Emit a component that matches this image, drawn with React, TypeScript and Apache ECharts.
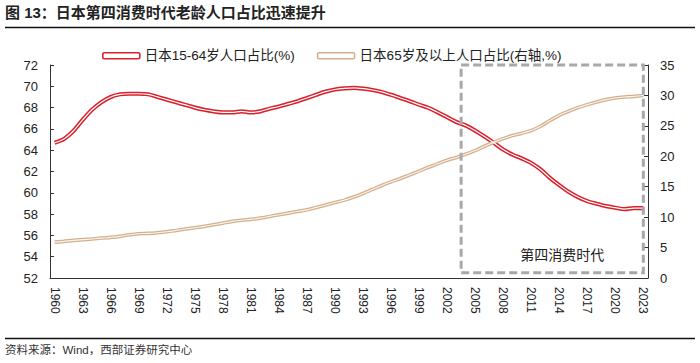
import React, { useEffect, useRef } from "react";
import * as echarts from "echarts";

const years: string[] = [];
for (let y = 1960; y <= 2023; y++) years.push(String(y));

const workingAgeShare = [
  64.7, 65.05, 65.8, 66.85, 67.8, 68.5, 69.0, 69.25, 69.3, 69.3,
  69.25, 69.0, 68.75, 68.5, 68.25, 68.0, 67.8, 67.65, 67.55, 67.55,
  67.65, 67.55, 67.65, 67.9, 68.1, 68.35, 68.6, 68.9, 69.2, 69.5,
  69.7, 69.8, 69.85, 69.78, 69.65, 69.47, 69.2, 68.9, 68.6, 68.28,
  67.97, 67.56, 67.1, 66.65, 66.32, 65.84, 65.28, 64.69, 64.06, 63.59,
  63.22, 62.8, 62.19, 61.4, 60.72, 60.1, 59.6, 59.22, 58.97, 58.75,
  58.6, 58.47, 58.56, 58.56,
];

const elderlyShare = [
  5.9, 6.02, 6.18, 6.3, 6.4, 6.56, 6.68, 6.84, 7.1, 7.28,
  7.33, 7.44, 7.6, 7.82, 8.04, 8.26, 8.48, 8.75, 9.02, 9.3,
  9.5, 9.63, 9.84, 10.12, 10.4, 10.66, 10.94, 11.2, 11.6, 12.0,
  12.4, 12.8, 13.3, 13.89, 14.55, 15.2, 15.8, 16.35, 16.95, 17.55,
  18.2, 18.76, 19.35, 19.8, 20.35, 20.94, 21.65, 22.3, 22.91, 23.4,
  23.79, 24.22, 24.93, 25.87, 26.74, 27.4, 28.0, 28.49, 28.93, 29.31,
  29.59, 29.75, 29.85, 30.0,
];

const leftTicks = { min: 52, max: 72, interval: 2 };
const rightTicks = { min: 0, max: 35, interval: 5 };

const boxStartYear = "2004";
const boxEndYear = "2023";
const boxBottomValue = 52.5;

const title = "图 13：日本第四消费时代老龄人口占比迅速提升";
const source = "资料来源：Wind，西部证券研究中心";
const boxLabel = "第四消费时代";
const seriesNames = ["日本15-64岁人口占比(%)", "日本65岁及以上人口占比(右轴,%)"];

const RED = "#d8202c";
const TAN = "#d2b08e";
const FONT = "'Liberation Sans', 'Noto Sans CJK SC', sans-serif";

export default function App() {
  const ref = useRef<HTMLDivElement>(null);

  useEffect(() => {
    if (!ref.current) return;
    const chart = echarts.init(ref.current, undefined, { renderer: "svg" });

    const axisLabelStyle = { color: "#222", fontSize: 13, fontFamily: FONT };

    const option: any = {
      animation: false,
      textStyle: { fontFamily: FONT },
      grid: { left: 50, right: 52, top: 65, bottom: 85, containLabel: false },
      legend: {
        left: 97,
        top: 44,
        itemWidth: 37,
        itemHeight: 6,
        itemGap: 22,
        textStyle: { color: "#222", fontSize: 13.5, fontFamily: FONT },
        data: [
          {
            name: seriesNames[0],
            icon: "roundRect",
            itemStyle: { color: "#fff", borderColor: RED, borderWidth: 1.6 },
          },
          {
            name: seriesNames[1],
            icon: "roundRect",
            itemStyle: { color: "#fff", borderColor: TAN, borderWidth: 1.6 },
          },
        ],
      },
      xAxis: {
        type: "category",
        data: years,
        boundaryGap: true,
        axisLine: { lineStyle: { color: "#333", width: 1 } },
        axisTick: { inside: true, length: 4, interval: 2, lineStyle: { color: "#333" } },
        axisLabel: { ...axisLabelStyle, fontSize: 12, rotate: -90, interval: 2, margin: 9 },
        splitLine: { show: false },
      },
      yAxis: [
        {
          type: "value",
          ...leftTicks,
          position: "left",
          axisLine: { show: true, lineStyle: { color: "#333", width: 1 } },
          axisTick: { show: true, inside: true, length: 4, lineStyle: { color: "#333" } },
          axisLabel: { ...axisLabelStyle, margin: 12 },
          splitLine: { show: false },
        },
        {
          type: "value",
          ...rightTicks,
          position: "right",
          axisLine: { show: true, lineStyle: { color: "#333", width: 1 } },
          axisTick: { show: true, inside: true, length: 4, lineStyle: { color: "#333" } },
          axisLabel: { ...axisLabelStyle, margin: 12 },
          splitLine: { show: false },
        },
      ],
      series: [
        {
          name: seriesNames[0],
          type: "line",
          yAxisIndex: 0,
          data: workingAgeShare,
          smooth: 0.3,
          showSymbol: false,
          lineStyle: { color: RED, width: 4.2 },
          itemStyle: { color: RED },
          z: 3,
        },
        {
          name: "red-inner",
          type: "line",
          yAxisIndex: 0,
          data: workingAgeShare,
          smooth: 0.3,
          showSymbol: false,
          lineStyle: { color: "#fff", width: 1.2 },
          itemStyle: { color: "#fff" },
          silent: true,
          z: 4,
        },
        {
          name: seriesNames[1],
          type: "line",
          yAxisIndex: 1,
          data: elderlyShare,
          smooth: 0.3,
          showSymbol: false,
          lineStyle: { color: TAN, width: 3.6 },
          itemStyle: { color: TAN },
          z: 3,
        },
        {
          name: "tan-inner",
          type: "line",
          yAxisIndex: 1,
          data: elderlyShare,
          smooth: 0.3,
          showSymbol: false,
          lineStyle: { color: "#fbf5ef", width: 1.1 },
          itemStyle: { color: "#fbf5ef" },
          silent: true,
          z: 4,
        },
      ],
    };

    chart.setOption(option);

    const band = (chart.convertToPixel({ xAxisIndex: 0 }, years[1]) as number) -
      (chart.convertToPixel({ xAxisIndex: 0 }, years[0]) as number);
    const x0 = (chart.convertToPixel({ xAxisIndex: 0 }, boxStartYear) as number) - band / 2;
    const x1 = chart.convertToPixel({ xAxisIndex: 0 }, boxEndYear) as number;
    const y0 = chart.convertToPixel({ yAxisIndex: 0 }, leftTicks.max) as number;
    const y1 = chart.convertToPixel({ yAxisIndex: 0 }, boxBottomValue) as number;

    chart.setOption({
      graphic: [
        {
          type: "text",
          left: 5,
          top: 5,
          style: {
            text: title,
            fill: "#222",
            font: `bold 15px ${FONT}`,
          },
        },
        {
          type: "line",
          shape: { x1: 5, y1: 27.5, x2: 695, y2: 27.5 },
          style: { stroke: "#111", lineWidth: 1.5 },
        },
        {
          type: "line",
          shape: { x1: 5, y1: 338.5, x2: 695, y2: 338.5 },
          style: { stroke: "#111", lineWidth: 1.5 },
        },
        {
          type: "text",
          left: 5,
          top: 344,
          style: { text: source, fill: "#333", font: `11.5px ${FONT}` },
        },
        {
          type: "rect",
          shape: { x: x0, y: y0, width: x1 - x0, height: y1 - y0 },
          style: { fill: "none", stroke: "#a8a8a8", lineWidth: 3, lineDash: [8, 4] },
          z: 10,
        },
        {
          type: "text",
          x: x1 - 81,
          y: y1 - 18,
          style: {
            text: boxLabel,
            fill: "#222",
            font: `14px ${FONT}`,
            align: "center",
            verticalAlign: "middle",
          },
          z: 10,
        },
      ],
    });

    return () => chart.dispose();
  }, []);

  return (
    <div
      ref={ref}
      style={{ position: "absolute", left: 0, top: 0, width: 700, height: 363, background: "#fff" }}
    />
  );
}
